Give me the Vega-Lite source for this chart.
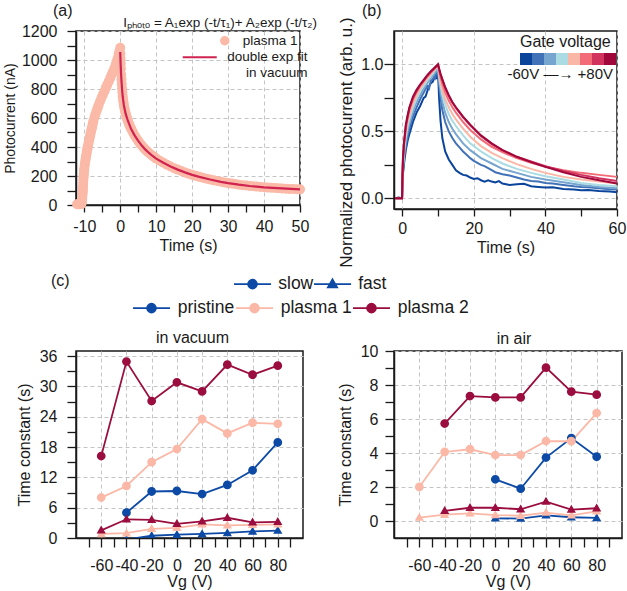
{
"$schema": "https://vega.github.io/schema/vega-lite/v6.json",
"background": "white",
"padding": {"left": 2, "top": 2, "right": 2, "bottom": 2},
"bounds": "flush",
"columns": 2,
"align": {"row": "all", "column": "none"},
"spacing": {"row": 133, "column": 91},
"resolve": {"scale": {"x": "independent", "y": "independent", "color": "independent", "shape": "independent", "fill": "independent", "stroke": "independent"}, "legend": {"color": "independent", "shape": "independent", "fill": "independent", "stroke": "independent"}},
"config": {
 "font": "Liberation Sans",
 "view": {"stroke": "#1a1a1a", "strokeWidth": 1.5},
 "axis": {"domainColor": "#1a1a1a", "domainWidth": 1.5, "tickColor": "#1a1a1a", "tickWidth": 1.3, "tickSize": 7, "tickCount": 100, "labelFontSize": 16, "titleFontSize": 16, "labelColor": "#1a1a1a", "titleColor": "#1a1a1a", "titleFontWeight": "normal", "gridColor": "#c4c4c4", "gridDash": [4, 3], "gridWidth": 1, "labelOverlap": false, "labelFlush": false, "labelBound": false},
 "legend": {"labelFontSize": 16, "titleFontSize": 16, "titleFontWeight": "normal", "labelColor": "#1a1a1a", "titleColor": "#1a1a1a", "padding": 0, "labelLimit": 400}
},
"datasets": {
 "a_pts": [
  {"t":-12.0,"I":5},{"t":-11.7,"I":5},{"t":-11.4,"I":5},{"t":-11.1,"I":5},{"t":-10.8,"I":8},{"t":-10.65,"I":20},{"t":-10.55,"I":45},{"t":-10.5,"I":70},{"t":-10.45,"I":85},{"t":-10.4,"I":100},{"t":-10.35,"I":120},{"t":-10.3,"I":145},{"t":-10.25,"I":168},{"t":-10.2,"I":190},{"t":-10.15,"I":205},{"t":-10.1,"I":222},{"t":-10.05,"I":238},{"t":-10.0,"I":250},{"t":-9.9,"I":270},{"t":-9.8,"I":290},{"t":-9.7,"I":305},{"t":-9.6,"I":320},{"t":-9.5,"I":335},{"t":-9.4,"I":350},{"t":-9.3,"I":365},{"t":-9.2,"I":380},{"t":-9.1,"I":392},{"t":-9.0,"I":405},{"t":-8.85,"I":422},{"t":-8.7,"I":440},{"t":-8.55,"I":458},{"t":-8.4,"I":475},{"t":-8.25,"I":492},{"t":-8.1,"I":510},{"t":-7.95,"I":525},{"t":-7.8,"I":540},{"t":-7.65,"I":558},{"t":-7.5,"I":575},{"t":-7.2,"I":602},{"t":-6.9,"I":626},{"t":-6.6,"I":648},{"t":-6.3,"I":668},{"t":-6.0,"I":690},{"t":-5.6,"I":715},{"t":-5.2,"I":740},{"t":-4.8,"I":762},{"t":-4.4,"I":785},{"t":-4.0,"I":808},{"t":-3.6,"I":830},{"t":-3.2,"I":852},{"t":-2.8,"I":875},{"t":-2.4,"I":898},{"t":-2.0,"I":920},{"t":-1.6,"I":945},{"t":-1.2,"I":972},{"t":-0.8,"I":1005},{"t":-0.5,"I":1035},{"t":-0.25,"I":1060},{"t":0,"I":1085},
  {"t":0.05,"I":1045},{"t":0.1,"I":1010},{"t":0.15,"I":975},{"t":0.2,"I":940},{"t":0.27,"I":900},{"t":0.35,"I":865},{"t":0.42,"I":835},{"t":0.5,"I":805},{"t":0.6,"I":776},{"t":0.7,"I":750},{"t":0.8,"I":728},{"t":0.9,"I":708},{"t":1.0,"I":692},{"t":1.1,"I":676},{"t":1.25,"I":658},{"t":1.4,"I":642},{"t":1.55,"I":628},{"t":1.7,"I":614},{"t":1.85,"I":602},{"t":2.0,"I":590},{"t":2.2,"I":576},{"t":2.4,"I":562},{"t":2.6,"I":550},{"t":2.8,"I":538},{"t":3.0,"I":527},{"t":3.2,"I":517},{"t":3.6,"I":498},{"t":4.0,"I":480},{"t":4.5,"I":460},{"t":5,"I":442},{"t":5.5,"I":425},{"t":6,"I":410},{"t":6.5,"I":395},{"t":7,"I":382},{"t":7.5,"I":370},{"t":8,"I":359},{"t":8.5,"I":348},{"t":9,"I":338},{"t":9.5,"I":329},{"t":10,"I":320},{"t":11,"I":305},{"t":12,"I":291},{"t":13,"I":278},{"t":14,"I":266},{"t":15,"I":254},{"t":16,"I":244},{"t":17,"I":234},{"t":18,"I":225},{"t":19,"I":216},{"t":20,"I":208},{"t":21,"I":201},{"t":22,"I":194},{"t":23,"I":188},{"t":24,"I":181},{"t":25,"I":176},{"t":26,"I":170},{"t":27,"I":165},{"t":28,"I":160},{"t":29,"I":156},{"t":30,"I":151},{"t":31,"I":148},{"t":32,"I":144},{"t":33,"I":140},{"t":34,"I":137},{"t":35,"I":134},{"t":36,"I":131},{"t":37,"I":129},{"t":38,"I":127},{"t":39,"I":124},{"t":40,"I":122},{"t":41,"I":120},{"t":42,"I":119},{"t":43,"I":117},{"t":44,"I":115},{"t":45,"I":114},{"t":46,"I":112},{"t":47,"I":111},{"t":48,"I":110},{"t":49,"I":109},{"t":50,"I":108}
 ],
 "a_fit": [
  {"t":0,"I":1055},{"t":0.1,"I":980},{"t":0.2,"I":920},{"t":0.35,"I":855},{"t":0.5,"I":800},{"t":0.7,"I":745},{"t":1,"I":690},{"t":1.5,"I":630},{"t":2,"I":590},{"t":3,"I":525},{"t":4,"I":480},{"t":5,"I":442},{"t":6,"I":410},{"t":7,"I":382},{"t":8,"I":359},{"t":9,"I":338},{"t":10,"I":320},{"t":12,"I":291},{"t":14,"I":266},{"t":16,"I":244},{"t":18,"I":225},{"t":20,"I":208},{"t":22,"I":194},{"t":25,"I":176},{"t":28,"I":160},{"t":30,"I":151},{"t":33,"I":140},{"t":36,"I":131},{"t":40,"I":122},{"t":45,"I":114},{"t":50,"I":108}
 ],
 "b": [
  {"g":-60,"t":-2,"v":0},{"g":-60,"t":-1,"v":0.005},{"g":-60,"t":-0.05,"v":0},{"g":-60,"t":0.05,"v":0.09},{"g":-60,"t":0.2,"v":0.18},{"g":-60,"t":0.5,"v":0.26},{"g":-60,"t":1,"v":0.36},{"g":-60,"t":1.5,"v":0.43},{"g":-60,"t":2,"v":0.48},{"g":-60,"t":3,"v":0.57},{"g":-60,"t":4,"v":0.64},{"g":-60,"t":5,"v":0.69},{"g":-60,"t":5.5,"v":0.72},{"g":-60,"t":6,"v":0.75},{"g":-60,"t":6.5,"v":0.76},{"g":-60,"t":7,"v":0.8},{"g":-60,"t":7.5,"v":0.84},{"g":-60,"t":8,"v":0.86},{"g":-60,"t":8.5,"v":0.87},{"g":-60,"t":9,"v":0.9},{"g":-60,"t":9.2,"v":0.94},{"g":-60,"t":9.5,"v":0.92},{"g":-60,"t":9.7,"v":0.89},{"g":-60,"t":9.85,"v":0.96},{"g":-60,"t":10,"v":0.95},{"g":-60,"t":10.3,"v":0.75},{"g":-60,"t":10.7,"v":0.58},{"g":-60,"t":11.2,"v":0.45},{"g":-60,"t":12,"v":0.35},{"g":-60,"t":13,"v":0.29},{"g":-60,"t":14,"v":0.25},{"g":-60,"t":15,"v":0.21},{"g":-60,"t":16,"v":0.19},{"g":-60,"t":17,"v":0.175},{"g":-60,"t":18,"v":0.17},{"g":-60,"t":19,"v":0.155},{"g":-60,"t":20,"v":0.145},{"g":-60,"t":21,"v":0.15},{"g":-60,"t":22,"v":0.135},{"g":-60,"t":23,"v":0.125},{"g":-60,"t":24,"v":0.135},{"g":-60,"t":25,"v":0.125},{"g":-60,"t":26,"v":0.118},{"g":-60,"t":27,"v":0.128},{"g":-60,"t":28,"v":0.11},{"g":-60,"t":30,"v":0.1},{"g":-60,"t":32,"v":0.105},{"g":-60,"t":34,"v":0.108},{"g":-60,"t":36,"v":0.09},{"g":-60,"t":38,"v":0.085},{"g":-60,"t":40,"v":0.08},{"g":-60,"t":42,"v":0.082},{"g":-60,"t":45,"v":0.07},{"g":-60,"t":48,"v":0.065},{"g":-60,"t":50,"v":0.06},{"g":-60,"t":52,"v":0.062},{"g":-60,"t":55,"v":0.055},{"g":-60,"t":58,"v":0.05},{"g":-60,"t":60,"v":0.045},
  {"g":-40,"t":-2,"v":0},{"g":-40,"t":-1,"v":0},{"g":-40,"t":-0.05,"v":0},{"g":-40,"t":0.05,"v":0.1},{"g":-40,"t":0.2,"v":0.2},{"g":-40,"t":0.5,"v":0.29},{"g":-40,"t":1,"v":0.39},{"g":-40,"t":1.5,"v":0.46},{"g":-40,"t":2,"v":0.52},{"g":-40,"t":3,"v":0.61},{"g":-40,"t":4,"v":0.68},{"g":-40,"t":5,"v":0.74},{"g":-40,"t":6,"v":0.79},{"g":-40,"t":7,"v":0.84},{"g":-40,"t":7.5,"v":0.82},{"g":-40,"t":8,"v":0.88},{"g":-40,"t":8.5,"v":0.89},{"g":-40,"t":9,"v":0.91},{"g":-40,"t":9.2,"v":0.9},{"g":-40,"t":9.5,"v":0.94},{"g":-40,"t":9.7,"v":0.95},{"g":-40,"t":10,"v":0.96},{"g":-40,"t":10.3,"v":0.85},{"g":-40,"t":10.7,"v":0.75},{"g":-40,"t":11.2,"v":0.66},{"g":-40,"t":12,"v":0.57},{"g":-40,"t":13,"v":0.5},{"g":-40,"t":14,"v":0.45},{"g":-40,"t":15,"v":0.41},{"g":-40,"t":16,"v":0.38},{"g":-40,"t":17,"v":0.35},{"g":-40,"t":18,"v":0.325},{"g":-40,"t":19,"v":0.3},{"g":-40,"t":20,"v":0.28},{"g":-40,"t":22,"v":0.25},{"g":-40,"t":23,"v":0.24},{"g":-40,"t":25,"v":0.21},{"g":-40,"t":26,"v":0.195},{"g":-40,"t":28,"v":0.18},{"g":-40,"t":30,"v":0.17},{"g":-40,"t":32,"v":0.155},{"g":-40,"t":34,"v":0.14},{"g":-40,"t":36,"v":0.13},{"g":-40,"t":38,"v":0.125},{"g":-40,"t":40,"v":0.115},{"g":-40,"t":42,"v":0.11},{"g":-40,"t":45,"v":0.1},{"g":-40,"t":48,"v":0.09},{"g":-40,"t":50,"v":0.085},{"g":-40,"t":52,"v":0.082},{"g":-40,"t":55,"v":0.075},{"g":-40,"t":58,"v":0.068},{"g":-40,"t":60,"v":0.065},
  {"g":-20,"t":-2,"v":0},{"g":-20,"t":-1,"v":0},{"g":-20,"t":-0.05,"v":0},{"g":-20,"t":0.05,"v":0.11},{"g":-20,"t":0.2,"v":0.22},{"g":-20,"t":0.5,"v":0.32},{"g":-20,"t":1,"v":0.43},{"g":-20,"t":1.5,"v":0.5},{"g":-20,"t":2,"v":0.56},{"g":-20,"t":3,"v":0.65},{"g":-20,"t":4,"v":0.72},{"g":-20,"t":5,"v":0.77},{"g":-20,"t":6,"v":0.82},{"g":-20,"t":7,"v":0.86},{"g":-20,"t":8,"v":0.9},{"g":-20,"t":9,"v":0.93},{"g":-20,"t":9.5,"v":0.955},{"g":-20,"t":10,"v":0.975},{"g":-20,"t":10.3,"v":0.88},{"g":-20,"t":10.7,"v":0.8},{"g":-20,"t":11.2,"v":0.72},{"g":-20,"t":12,"v":0.64},{"g":-20,"t":13,"v":0.57},{"g":-20,"t":14,"v":0.52},{"g":-20,"t":15,"v":0.48},{"g":-20,"t":17,"v":0.41},{"g":-20,"t":19,"v":0.36},{"g":-20,"t":22,"v":0.3},{"g":-20,"t":25,"v":0.26},{"g":-20,"t":28,"v":0.22},{"g":-20,"t":32,"v":0.19},{"g":-20,"t":36,"v":0.16},{"g":-20,"t":40,"v":0.14},{"g":-20,"t":45,"v":0.12},{"g":-20,"t":50,"v":0.1},{"g":-20,"t":55,"v":0.085},{"g":-20,"t":60,"v":0.075},
  {"g":0,"t":-2,"v":0},{"g":0,"t":-1,"v":0},{"g":0,"t":-0.05,"v":0},{"g":0,"t":0.05,"v":0.12},{"g":0,"t":0.2,"v":0.24},{"g":0,"t":0.5,"v":0.35},{"g":0,"t":1,"v":0.46},{"g":0,"t":1.5,"v":0.54},{"g":0,"t":2,"v":0.59},{"g":0,"t":3,"v":0.68},{"g":0,"t":4,"v":0.745},{"g":0,"t":5,"v":0.8},{"g":0,"t":6,"v":0.84},{"g":0,"t":7,"v":0.88},{"g":0,"t":8,"v":0.915},{"g":0,"t":9,"v":0.95},{"g":0,"t":9.5,"v":0.97},{"g":0,"t":10,"v":0.99},{"g":0,"t":10.3,"v":0.91},{"g":0,"t":10.7,"v":0.84},{"g":0,"t":11.2,"v":0.77},{"g":0,"t":12,"v":0.7},{"g":0,"t":13,"v":0.63},{"g":0,"t":14,"v":0.58},{"g":0,"t":15,"v":0.54},{"g":0,"t":17,"v":0.47},{"g":0,"t":19,"v":0.41},{"g":0,"t":22,"v":0.35},{"g":0,"t":25,"v":0.3},{"g":0,"t":28,"v":0.26},{"g":0,"t":32,"v":0.22},{"g":0,"t":36,"v":0.19},{"g":0,"t":40,"v":0.165},{"g":0,"t":45,"v":0.14},{"g":0,"t":50,"v":0.115},{"g":0,"t":55,"v":0.1},{"g":0,"t":60,"v":0.09},
  {"g":20,"t":-2,"v":0},{"g":20,"t":-1,"v":0},{"g":20,"t":-0.05,"v":0},{"g":20,"t":0.05,"v":0.13},{"g":20,"t":0.2,"v":0.26},{"g":20,"t":0.5,"v":0.37},{"g":20,"t":1,"v":0.49},{"g":20,"t":1.5,"v":0.57},{"g":20,"t":2,"v":0.62},{"g":20,"t":3,"v":0.71},{"g":20,"t":4,"v":0.77},{"g":20,"t":5,"v":0.82},{"g":20,"t":6,"v":0.86},{"g":20,"t":7,"v":0.895},{"g":20,"t":8,"v":0.93},{"g":20,"t":9,"v":0.96},{"g":20,"t":9.5,"v":0.98},{"g":20,"t":10,"v":1.0},{"g":20,"t":10.3,"v":0.93},{"g":20,"t":10.7,"v":0.87},{"g":20,"t":11.2,"v":0.81},{"g":20,"t":12,"v":0.74},{"g":20,"t":13,"v":0.68},{"g":20,"t":14,"v":0.63},{"g":20,"t":15,"v":0.59},{"g":20,"t":17,"v":0.52},{"g":20,"t":19,"v":0.46},{"g":20,"t":22,"v":0.39},{"g":20,"t":25,"v":0.34},{"g":20,"t":28,"v":0.3},{"g":20,"t":32,"v":0.255},{"g":20,"t":36,"v":0.22},{"g":20,"t":40,"v":0.19},{"g":20,"t":45,"v":0.16},{"g":20,"t":50,"v":0.14},{"g":20,"t":55,"v":0.125},{"g":20,"t":60,"v":0.11},
  {"g":40,"t":-2,"v":0},{"g":40,"t":-1,"v":0},{"g":40,"t":-0.05,"v":0},{"g":40,"t":0.05,"v":0.14},{"g":40,"t":0.2,"v":0.28},{"g":40,"t":0.5,"v":0.4},{"g":40,"t":1,"v":0.52},{"g":40,"t":1.5,"v":0.6},{"g":40,"t":2,"v":0.66},{"g":40,"t":3,"v":0.74},{"g":40,"t":4,"v":0.795},{"g":40,"t":5,"v":0.84},{"g":40,"t":6,"v":0.875},{"g":40,"t":7,"v":0.91},{"g":40,"t":8,"v":0.94},{"g":40,"t":9,"v":0.97},{"g":40,"t":9.5,"v":0.985},{"g":40,"t":10,"v":1.0},{"g":40,"t":10.3,"v":0.955},{"g":40,"t":10.7,"v":0.905},{"g":40,"t":11.2,"v":0.855},{"g":40,"t":12,"v":0.79},{"g":40,"t":13,"v":0.73},{"g":40,"t":14,"v":0.68},{"g":40,"t":15,"v":0.64},{"g":40,"t":17,"v":0.57},{"g":40,"t":19,"v":0.51},{"g":40,"t":22,"v":0.44},{"g":40,"t":25,"v":0.385},{"g":40,"t":28,"v":0.345},{"g":40,"t":32,"v":0.3},{"g":40,"t":36,"v":0.265},{"g":40,"t":40,"v":0.235},{"g":40,"t":45,"v":0.21},{"g":40,"t":50,"v":0.19},{"g":40,"t":55,"v":0.175},{"g":40,"t":60,"v":0.16},
  {"g":60,"t":-2,"v":0},{"g":60,"t":-1,"v":0},{"g":60,"t":-0.05,"v":0},{"g":60,"t":0.05,"v":0.14},{"g":60,"t":0.2,"v":0.29},{"g":60,"t":0.5,"v":0.41},{"g":60,"t":1,"v":0.54},{"g":60,"t":1.5,"v":0.61},{"g":60,"t":2,"v":0.67},{"g":60,"t":3,"v":0.75},{"g":60,"t":4,"v":0.8},{"g":60,"t":5,"v":0.845},{"g":60,"t":6,"v":0.88},{"g":60,"t":7,"v":0.915},{"g":60,"t":8,"v":0.945},{"g":60,"t":9,"v":0.97},{"g":60,"t":9.5,"v":0.985},{"g":60,"t":10,"v":1.0},{"g":60,"t":10.3,"v":0.965},{"g":60,"t":10.7,"v":0.925},{"g":60,"t":11.2,"v":0.885},{"g":60,"t":12,"v":0.825},{"g":60,"t":13,"v":0.765},{"g":60,"t":14,"v":0.715},{"g":60,"t":15,"v":0.675},{"g":60,"t":17,"v":0.605},{"g":60,"t":19,"v":0.545},{"g":60,"t":22,"v":0.465},{"g":60,"t":25,"v":0.405},{"g":60,"t":28,"v":0.36},{"g":60,"t":32,"v":0.31},{"g":60,"t":36,"v":0.275},{"g":60,"t":40,"v":0.24},{"g":60,"t":45,"v":0.205},{"g":60,"t":50,"v":0.175},{"g":60,"t":55,"v":0.15},{"g":60,"t":60,"v":0.13},
  {"g":80,"t":-2,"v":0},{"g":80,"t":-1,"v":0},{"g":80,"t":-0.05,"v":0},{"g":80,"t":0.05,"v":0.15},{"g":80,"t":0.2,"v":0.3},{"g":80,"t":0.5,"v":0.42},{"g":80,"t":1,"v":0.55},{"g":80,"t":1.5,"v":0.62},{"g":80,"t":2,"v":0.68},{"g":80,"t":3,"v":0.76},{"g":80,"t":4,"v":0.81},{"g":80,"t":5,"v":0.85},{"g":80,"t":6,"v":0.885},{"g":80,"t":7,"v":0.92},{"g":80,"t":8,"v":0.95},{"g":80,"t":9,"v":0.975},{"g":80,"t":9.5,"v":0.988},{"g":80,"t":10,"v":1.0},{"g":80,"t":10.3,"v":0.97},{"g":80,"t":10.7,"v":0.93},{"g":80,"t":11.2,"v":0.89},{"g":80,"t":12,"v":0.83},{"g":80,"t":13,"v":0.77},{"g":80,"t":14,"v":0.72},{"g":80,"t":15,"v":0.68},{"g":80,"t":17,"v":0.61},{"g":80,"t":19,"v":0.55},{"g":80,"t":22,"v":0.47},{"g":80,"t":25,"v":0.41},{"g":80,"t":28,"v":0.36},{"g":80,"t":32,"v":0.31},{"g":80,"t":36,"v":0.27},{"g":80,"t":40,"v":0.235},{"g":80,"t":45,"v":0.195},{"g":80,"t":50,"v":0.16},{"g":80,"t":55,"v":0.135},{"g":80,"t":60,"v":0.11}
 ],
 "vac": [
  {"sample":"pristine","kind":"slow","vg":-40,"tau":5.0},{"sample":"pristine","kind":"slow","vg":-20,"tau":9.2},{"sample":"pristine","kind":"slow","vg":0,"tau":9.3},{"sample":"pristine","kind":"slow","vg":20,"tau":8.7},{"sample":"pristine","kind":"slow","vg":40,"tau":10.5},{"sample":"pristine","kind":"slow","vg":60,"tau":13.4},{"sample":"pristine","kind":"slow","vg":80,"tau":18.9},
  {"sample":"pristine","kind":"fast","vg":-40,"tau":-0.3},{"sample":"pristine","kind":"fast","vg":-20,"tau":0.45},{"sample":"pristine","kind":"fast","vg":0,"tau":0.65},{"sample":"pristine","kind":"fast","vg":20,"tau":0.8},{"sample":"pristine","kind":"fast","vg":40,"tau":1.0},{"sample":"pristine","kind":"fast","vg":60,"tau":1.3},{"sample":"pristine","kind":"fast","vg":80,"tau":1.45},
  {"sample":"plasma 1","kind":"slow","vg":-60,"tau":8.0},{"sample":"plasma 1","kind":"slow","vg":-40,"tau":10.3},{"sample":"plasma 1","kind":"slow","vg":-20,"tau":15.0},{"sample":"plasma 1","kind":"slow","vg":0,"tau":17.6},{"sample":"plasma 1","kind":"slow","vg":20,"tau":23.5},{"sample":"plasma 1","kind":"slow","vg":40,"tau":20.7},{"sample":"plasma 1","kind":"slow","vg":60,"tau":22.8},{"sample":"plasma 1","kind":"slow","vg":80,"tau":22.6},
  {"sample":"plasma 1","kind":"fast","vg":-60,"tau":0.8},{"sample":"plasma 1","kind":"fast","vg":-40,"tau":0.95},{"sample":"plasma 1","kind":"fast","vg":-20,"tau":1.8},{"sample":"plasma 1","kind":"fast","vg":0,"tau":2.0},{"sample":"plasma 1","kind":"fast","vg":20,"tau":2.7},{"sample":"plasma 1","kind":"fast","vg":40,"tau":2.5},{"sample":"plasma 1","kind":"fast","vg":60,"tau":2.6},{"sample":"plasma 1","kind":"fast","vg":80,"tau":2.7},
  {"sample":"plasma 2","kind":"slow","vg":-60,"tau":16.2},{"sample":"plasma 2","kind":"slow","vg":-40,"tau":34.9},{"sample":"plasma 2","kind":"slow","vg":-20,"tau":27.1},{"sample":"plasma 2","kind":"slow","vg":0,"tau":30.8},{"sample":"plasma 2","kind":"slow","vg":20,"tau":29.0},{"sample":"plasma 2","kind":"slow","vg":40,"tau":34.3},{"sample":"plasma 2","kind":"slow","vg":60,"tau":32.3},{"sample":"plasma 2","kind":"slow","vg":80,"tau":34.1},
  {"sample":"plasma 2","kind":"fast","vg":-60,"tau":1.5},{"sample":"plasma 2","kind":"fast","vg":-40,"tau":3.7},{"sample":"plasma 2","kind":"fast","vg":-20,"tau":3.6},{"sample":"plasma 2","kind":"fast","vg":0,"tau":2.8},{"sample":"plasma 2","kind":"fast","vg":20,"tau":3.3},{"sample":"plasma 2","kind":"fast","vg":40,"tau":4.0},{"sample":"plasma 2","kind":"fast","vg":60,"tau":3.1},{"sample":"plasma 2","kind":"fast","vg":80,"tau":3.2}
 ],
 "air": [
  {"sample":"pristine","kind":"slow","vg":0,"tau":2.45},{"sample":"pristine","kind":"slow","vg":20,"tau":1.9},{"sample":"pristine","kind":"slow","vg":40,"tau":3.73},{"sample":"pristine","kind":"slow","vg":60,"tau":4.88},{"sample":"pristine","kind":"slow","vg":80,"tau":3.78},
  {"sample":"pristine","kind":"fast","vg":0,"tau":0.16},{"sample":"pristine","kind":"fast","vg":20,"tau":0.14},{"sample":"pristine","kind":"fast","vg":40,"tau":0.33},{"sample":"pristine","kind":"fast","vg":60,"tau":0.22},{"sample":"pristine","kind":"fast","vg":80,"tau":0.18},
  {"sample":"plasma 1","kind":"slow","vg":-60,"tau":2.0},{"sample":"plasma 1","kind":"slow","vg":-40,"tau":4.06},{"sample":"plasma 1","kind":"slow","vg":-20,"tau":4.22},{"sample":"plasma 1","kind":"slow","vg":0,"tau":3.88},{"sample":"plasma 1","kind":"slow","vg":20,"tau":3.88},{"sample":"plasma 1","kind":"slow","vg":40,"tau":4.7},{"sample":"plasma 1","kind":"slow","vg":60,"tau":4.69},{"sample":"plasma 1","kind":"slow","vg":80,"tau":6.35},
  {"sample":"plasma 1","kind":"fast","vg":-60,"tau":0.2},{"sample":"plasma 1","kind":"fast","vg":-40,"tau":0.37},{"sample":"plasma 1","kind":"fast","vg":-20,"tau":0.45},{"sample":"plasma 1","kind":"fast","vg":0,"tau":0.35},{"sample":"plasma 1","kind":"fast","vg":20,"tau":0.31},{"sample":"plasma 1","kind":"fast","vg":40,"tau":0.49},{"sample":"plasma 1","kind":"fast","vg":60,"tau":0.33},{"sample":"plasma 1","kind":"fast","vg":80,"tau":0.57},
  {"sample":"plasma 2","kind":"slow","vg":-40,"tau":5.73},{"sample":"plasma 2","kind":"slow","vg":-20,"tau":7.35},{"sample":"plasma 2","kind":"slow","vg":0,"tau":7.27},{"sample":"plasma 2","kind":"slow","vg":20,"tau":7.27},{"sample":"plasma 2","kind":"slow","vg":40,"tau":9.02},{"sample":"plasma 2","kind":"slow","vg":60,"tau":7.61},{"sample":"plasma 2","kind":"slow","vg":80,"tau":7.43},
  {"sample":"plasma 2","kind":"fast","vg":-40,"tau":0.6},{"sample":"plasma 2","kind":"fast","vg":-20,"tau":0.78},{"sample":"plasma 2","kind":"fast","vg":0,"tau":0.78},{"sample":"plasma 2","kind":"fast","vg":20,"tau":0.69},{"sample":"plasma 2","kind":"fast","vg":40,"tau":1.14},{"sample":"plasma 2","kind":"fast","vg":60,"tau":0.67},{"sample":"plasma 2","kind":"fast","vg":80,"tau":0.75}
 ]
},
"concat": [
 {
  "width": 224, "height": 174,
  "layer": [
   {"data": {"name": "a_pts"},
    "mark": {"type": "point", "filled": true, "size": 100, "opacity": 1},
    "encoding": {
     "x": {"field": "t", "type": "quantitative", "scale": {"domain": [-12.3, 50], "nice": false, "zero": false},
      "axis": {"title": "Time (s)", "values": [-10,-5,0,5,10,15,20,25,30,35,40,45,50], "tickCount": 100, "labelExpr": "datum.value % 10 === 0 ? '' + datum.value : ''", "gridOpacity": {"condition": {"test": "datum.value % 10 === 0", "value": 1}, "value": 0}, "labelOverlap": false, "tickSize": 7, "labelPadding": 6, "titlePadding": 3}},
     "y": {"field": "I", "type": "quantitative", "scale": {"domain": [0, 1200], "nice": false},
      "axis": {"title": "Photocurrent (nA)", "titleFontSize": 14, "values": [0,100,200,300,400,500,600,700,800,900,1000,1100,1200], "tickCount": 100, "labelExpr": "datum.value % 200 === 0 ? '' + datum.value : ''", "gridOpacity": {"condition": {"test": "datum.value % 200 === 0", "value": 1}, "value": 0}, "labelOverlap": false, "tickSize": 9, "labelPadding": 10, "titlePadding": 4}},
     "fill": {"datum": "plasma 1", "type": "nominal", "scale": {"range": ["#fbb9a7"]},
      "legend": {"orient": "none", "legendX": 142, "legendY": 3, "title": null, "symbolType": "circle", "symbolSize": 90, "symbolStrokeWidth": 0, "labelFontSize": 13.5, "labelAlign": "right", "labelOffset": 66}}
    }},
   {"data": {"name": "a_fit"},
    "mark": {"type": "line", "strokeWidth": 2.2},
    "encoding": {
     "x": {"field": "t", "type": "quantitative"},
     "y": {"field": "I", "type": "quantitative"},
     "stroke": {"datum": "double exp fit", "type": "nominal", "scale": {"range": ["#d0234f"]},
      "legend": {"orient": "none", "legendX": 107, "legendY": 19.5, "title": null, "symbolType": "M-4.25,0L4.25,0", "symbolSize": 64, "symbolStrokeWidth": 2.2, "symbolOffset": 10, "labelFontSize": 13.5, "labelAlign": "right", "labelOffset": 101, "labelExpr": "['double exp fit', 'in vacuum']"}}
    }},
   {"data": {"values": [{"label": "(a)"}]},
    "mark": {"type": "text", "align": "left", "baseline": "middle", "dx": -23, "dy": -20, "fontSize": 16, "color": "#1a1a1a"},
    "encoding": {"x": {"datum": -12.3}, "y": {"datum": 1200}, "text": {"field": "label"}}},
   {"data": {"values": [{"label": "I\u209a\u2095\u2092\u209c\u2092 = A\u2081exp (-t/\u03c4\u2081)+ A\u2082exp (-t/\u03c4\u2082)"}]},
    "mark": {"type": "text", "align": "right", "baseline": "middle", "dx": 17, "dy": -8, "fontSize": 13.5, "color": "#1a1a1a"},
    "encoding": {"x": {"datum": 50}, "y": {"datum": 1200}, "text": {"field": "label"}}}
  ]
 },
 {
  "width": 223, "height": 178,
  "layer": [
   {"data": {"name": "b"},
    "mark": {"type": "line", "strokeWidth": 2},
    "encoding": {
     "x": {"field": "t", "type": "quantitative", "scale": {"domain": [-2.3, 60], "nice": false, "zero": false},
      "axis": {"title": "Time (s)", "values": [0,10,20,30,40,50,60], "tickCount": 100, "labelExpr": "datum.value % 20 === 0 ? '' + datum.value : ''", "gridOpacity": {"condition": {"test": "datum.value % 20 === 0", "value": 1}, "value": 0}, "labelOverlap": false, "tickSize": 7, "labelPadding": 4, "titlePadding": 3}},
     "y": {"field": "v", "type": "quantitative", "scale": {"domain": [-0.08, 1.25], "nice": false, "zero": false},
      "axis": {"title": "Normalized photocurrent (arb. u.)", "titleFontSize": 17, "values": [0,0.25,0.5,0.75,1], "tickCount": 100, "labelExpr": "datum.value % 0.5 === 0 ? format(datum.value, '.1f') : ''", "gridOpacity": {"condition": {"test": "datum.value % 0.5 === 0", "value": 1}, "value": 0}, "labelOverlap": false, "tickSize": 10, "labelPadding": 1, "titlePadding": 5, "titleY": 111}},
     "color": {"field": "g", "type": "quantitative", "scale": {"type": "threshold", "domain": [-50,-30,-10,10,30,50,70], "range": ["#0a449b","#4172b8","#76a5cf","#abdbe3","#fbb7a6","#f26b77","#d1325e","#a0083c"]},
      "legend": {"type": "gradient", "orient": "none", "legendX": 126, "legendY": 3, "title": "Gate voltage", "direction": "horizontal", "gradientLength": 96, "gradientThickness": 12, "gradientStrokeWidth": 0, "labelExpr": "''", "labelFontSize": 1, "labelOffset": 0, "titlePadding": 3}},
     "detail": {"field": "g", "type": "nominal"}
    }},
   {"data": {"values": [{"label": "(b)"}]},
    "mark": {"type": "text", "align": "left", "baseline": "middle", "dx": -32, "dy": -20, "fontSize": 16, "color": "#1a1a1a"},
    "encoding": {"x": {"datum": -2.3}, "y": {"datum": 1.25}, "text": {"field": "label"}}},
   {"data": {"values": [{"label": "-60V  \u2014\u2192  +80V"}]},
    "mark": {"type": "text", "align": "right", "baseline": "middle", "dx": -4, "fontSize": 15, "color": "#1a1a1a"},
    "encoding": {"x": {"datum": 60}, "y": {"datum": 0.925}, "text": {"field": "label"}}}
  ]
 },
 {
  "width": 227, "height": 187,
  "layer": [
   {"data": {"name": "vac"},
    "mark": {"type": "line", "strokeWidth": 1.8, "clip": true},
    "encoding": {
     "x": {"field": "vg", "type": "quantitative", "scale": {"domain": [-80, 100], "nice": false},
      "axis": {"title": "Vg (V)", "values": [-70,-60,-50,-40,-30,-20,-10,0,10,20,30,40,50,60,70,80,90], "tickCount": 100, "labelExpr": "datum.value % 20 === 0 ? '' + datum.value : ''", "gridOpacity": {"condition": {"test": "datum.value % 20 === 0", "value": 1}, "value": 0}, "labelOverlap": false, "tickSize": 9, "labelPadding": 10, "titlePadding": 0}},
     "y": {"field": "tau", "type": "quantitative", "scale": {"domain": [0, 37], "nice": false},
      "axis": {"title": "Time constant (s)", "values": [0,3,6,9,12,15,18,21,24,27,30,33,36], "tickCount": 100, "labelExpr": "datum.value % 6 === 0 ? '' + datum.value : ''", "gridOpacity": {"condition": {"test": "datum.value % 6 === 0", "value": 1}, "value": 0}, "labelOverlap": false, "tickSize": 9, "labelPadding": 10, "titlePadding": 7}},
     "color": {"field": "sample", "type": "nominal", "scale": {"domain": ["pristine", "plasma 1", "plasma 2"], "range": ["#0d4aa6", "#fbb8a6", "#9a0d3e"]},
      "legend": {"orient": "none", "legendX": 57, "legendY": -52, "direction": "horizontal", "title": null, "symbolType": "M-4.625,0L4.625,0M1.1,0A1.1,1.1 0 1,1 -1.1,0A1.1,1.1 0 1,1 1.1,0Z", "symbolSize": 64, "symbolStrokeWidth": 1.8, "symbolOffset": 9.75, "labelFontSize": 17.5, "labelOffset": 17.5, "columnPadding": -3}},
     "detail": {"field": "kind"}
    }},
   {"data": {"name": "vac"},
    "mark": {"type": "point", "filled": true, "opacity": 1, "size": 64, "clip": true},
    "encoding": {
     "x": {"field": "vg", "type": "quantitative"},
     "y": {"field": "tau", "type": "quantitative"},
     "color": {"field": "sample", "type": "nominal"},
     "shape": {"field": "kind", "type": "nominal", "scale": {"domain": ["slow", "fast"], "range": ["M-4.625,0L4.625,0M1.1,0A1.1,1.1 0 1,1 -1.1,0A1.1,1.1 0 1,1 1.1,0Z", "M-4.625,0L4.625,0M0,-1.2L1.15,0.8L-1.15,0.8Z"]},
      "legend": {"orient": "none", "legendX": 158, "legendY": -76, "direction": "horizontal", "title": null, "symbolSize": 64, "symbolStrokeWidth": 1.8, "symbolFillColor": "#0d4aa6", "symbolStrokeColor": "#0d4aa6", "symbolOffset": 9.75, "labelFontSize": 17.5, "labelOffset": 17, "columnPadding": -5}}
    }},
   {"data": {"values": [{"label": "(c)"}]},
    "mark": {"type": "text", "align": "left", "baseline": "middle", "dx": -25, "dy": -70, "fontSize": 16, "color": "#1a1a1a"},
    "encoding": {"x": {"datum": -80}, "y": {"datum": 37}, "text": {"field": "label"}}},
   {"data": {"values": [{"label": "in vacuum"}]},
    "mark": {"type": "text", "align": "center", "baseline": "middle", "dx": 3, "dy": -13, "fontSize": 16, "color": "#1a1a1a"},
    "encoding": {"x": {"datum": 10}, "y": {"datum": 37}, "text": {"field": "label"}}}
  ]
 },
 {
  "width": 228, "height": 187,
  "layer": [
   {"data": {"name": "air"},
    "mark": {"type": "line", "strokeWidth": 1.8, "clip": true},
    "encoding": {
     "x": {"field": "vg", "type": "quantitative", "scale": {"domain": [-80, 100], "nice": false},
      "axis": {"title": "Vg (V)", "values": [-70,-60,-50,-40,-30,-20,-10,0,10,20,30,40,50,60,70,80,90], "tickCount": 100, "labelExpr": "datum.value % 20 === 0 ? '' + datum.value : ''", "gridOpacity": {"condition": {"test": "datum.value % 20 === 0", "value": 1}, "value": 0}, "labelOverlap": false, "tickSize": 9, "labelPadding": 10, "titlePadding": 0}},
     "y": {"field": "tau", "type": "quantitative", "scale": {"domain": [-1, 10], "nice": false, "zero": false},
      "axis": {"title": "Time constant (s)", "values": [0,1,2,3,4,5,6,7,8,9,10], "tickCount": 100, "labelExpr": "datum.value % 2 === 0 ? '' + datum.value : ''", "gridOpacity": {"condition": {"test": "datum.value % 2 === 0", "value": 1}, "value": 0}, "labelOverlap": false, "tickSize": 9, "labelPadding": 7, "titlePadding": 7}},
     "color": {"field": "sample", "type": "nominal", "scale": {"domain": ["pristine", "plasma 1", "plasma 2"], "range": ["#0d4aa6", "#fbb8a6", "#9a0d3e"]}, "legend": null},
     "detail": {"field": "kind"}
    }},
   {"data": {"name": "air"},
    "mark": {"type": "point", "filled": true, "opacity": 1, "size": 64, "clip": true},
    "encoding": {
     "x": {"field": "vg", "type": "quantitative"},
     "y": {"field": "tau", "type": "quantitative"},
     "color": {"field": "sample", "type": "nominal", "legend": null},
     "shape": {"field": "kind", "type": "nominal", "scale": {"domain": ["slow", "fast"], "range": ["M-4.625,0L4.625,0M1.1,0A1.1,1.1 0 1,1 -1.1,0A1.1,1.1 0 1,1 1.1,0Z", "M-4.625,0L4.625,0M0,-1.2L1.15,0.8L-1.15,0.8Z"]}, "legend": null}
    }},
   {"data": {"values": [{"label": "in air"}]},
    "mark": {"type": "text", "align": "center", "baseline": "middle", "dx": 6, "dy": -12, "fontSize": 16, "color": "#1a1a1a"},
    "encoding": {"x": {"datum": 10}, "y": {"datum": 10}, "text": {"field": "label"}}}
  ]
 }
]
}
